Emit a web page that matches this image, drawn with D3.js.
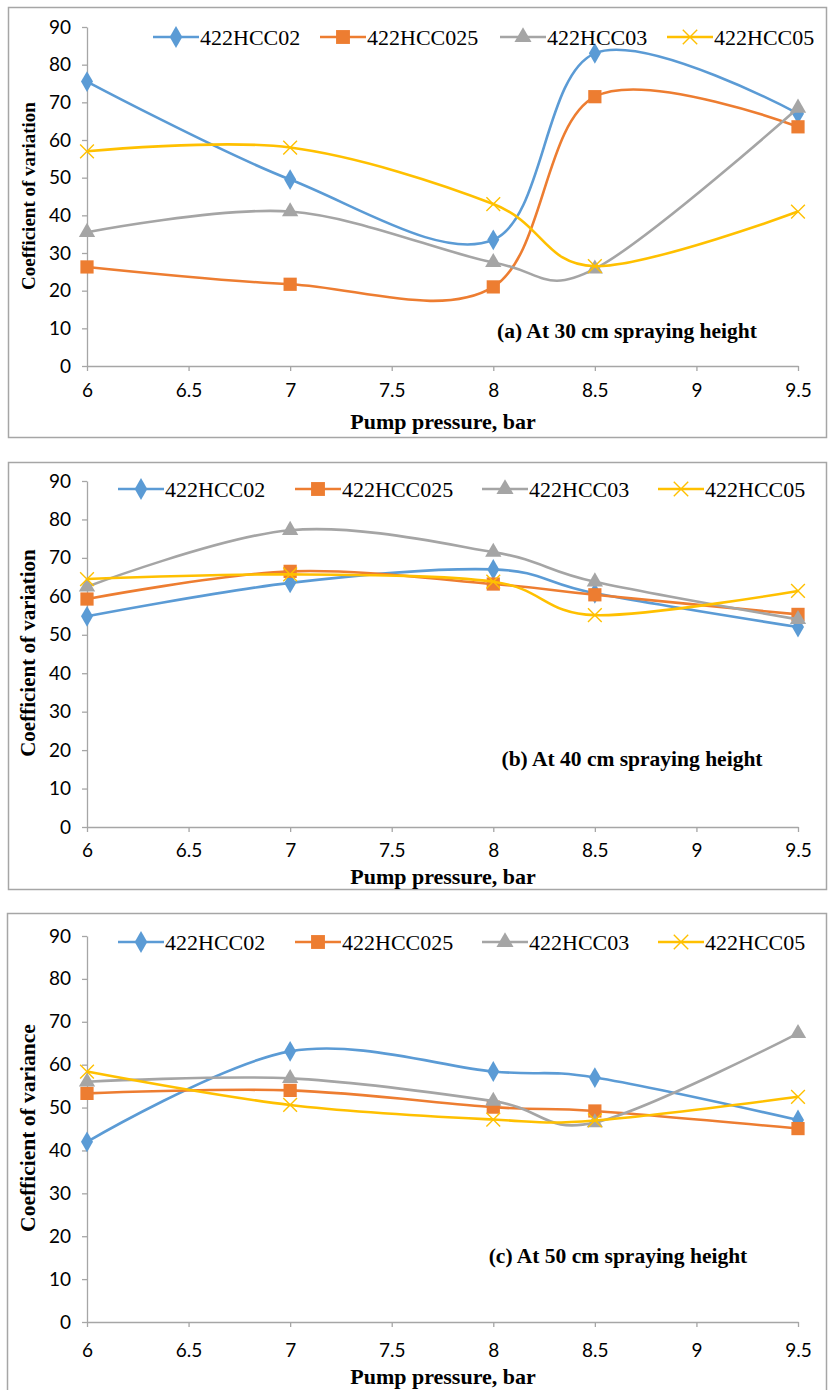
<!DOCTYPE html>
<html>
<head>
<meta charset="utf-8">
<script src="https://cdn.jsdelivr.net/npm/d3@7"></script>
<style>
  body { margin: 0; background: #fff; }
  svg { display: block; }
</style>
</head>
<body>
<svg id="chart" width="828" height="1390"></svg>
<script>
// cv_spray_height.js

const pressures = [6, 7, 8, 8.5, 9.5];
const seriesNames = ["422HCC02", "422HCC025", "422HCC03", "422HCC05"];
const xTicks = [6, 6.5, 7, 7.5, 8, 8.5, 9, 9.5];
const yTicks = [0, 10, 20, 30, 40, 50, 60, 70, 80, 90];

// (a) 30 cm
const cv30_hcc02  = [75.5, 49.5, 33.5, 83.0, 67.0];
const cv30_hcc025 = [26.3, 21.7, 21.0, 71.5, 63.5];
const cv30_hcc03  = [35.5, 41.0, 27.5, 25.8, 68.5];
const cv30_hcc05  = [57.0, 58.0, 43.0, 26.5, 41.0];

// (b) 40 cm
const cv40_hcc02  = [54.8, 63.5, 67.0, 60.8, 52.0];
const cv40_hcc025 = [59.3, 66.5, 63.2, 60.4, 55.3];
const cv40_hcc03  = [62.5, 77.2, 71.5, 63.8, 54.0];
const cv40_hcc05  = [64.5, 65.7, 63.8, 55.1, 61.4];

// (c) 50 cm
const cv50_hcc02  = [42.0, 63.1, 58.4, 57.0, 47.1];
const cv50_hcc025 = [53.3, 54.0, 50.1, 49.2, 45.1];
const cv50_hcc03  = [56.0, 56.8, 51.5, 46.5, 67.3];
const cv50_hcc05  = [58.4, 50.6, 47.2, 47.0, 52.5];

const colores = ["#5B9BD5", "#ED7D31", "#A5A5A5", "#FFC000"];
const simbolos = [d3.symbolDiamond, d3.symbolSquare, d3.symbolTriangle, d3.symbolTimes];
const tamanos = [125, 175, 115, 125];

const serif = "'Liberation Serif', 'Times New Roman', serif";
const sans = "Lato, 'Open Sans', sans-serif";

const paneles = [
    { box: [8.5, 7.5, 818, 430], y0: 366, y90: 27,
      datos: [cv30_hcc02, cv30_hcc025, cv30_hcc03, cv30_hcc05],
      leyendaY: 37, leyendaX: [153, 320, 500, 667],
      tickY: 397, tituloX: 429, tituloY: 196, tituloYSize: 19, yLabel: "Coefficient of variation",
      nota: "(a) At 30 cm spraying height", notaX: 627, notaY: 338 },
    { box: [8.5, 462.5, 818, 427], y0: 827, y90: 481,
      datos: [cv40_hcc02, cv40_hcc025, cv40_hcc03, cv40_hcc05],
      leyendaY: 489, leyendaX: [118, 295, 482, 658],
      tickY: 857, tituloX: 884, tituloY: 653, tituloYSize: 21, yLabel: "Coefficient of variation",
      nota: "(b) At 40 cm spraying height", notaX: 632, notaY: 766 },
    { box: [7.5, 913.5, 819, 500], y0: 1322, y90: 936,
      datos: [cv50_hcc02, cv50_hcc025, cv50_hcc03, cv50_hcc05],
      leyendaY: 942, leyendaX: [118, 295, 482, 658],
      tickY: 1357, tituloX: 1384, tituloY: 1128, tituloYSize: 21.5, yLabel: "Coefficient of variance",
      nota: "(c) At 50 cm spraying height", notaX: 618, notaY: 1263 }
];

const svg = d3.select("#chart");

const x = d3.scaleLinear().domain([6, 9.5]).range([87, 798]);

function dibujarPanel(p) {
    const g = svg.append("g");

    g.append("rect")
        .attr("x", p.box[0]).attr("y", p.box[1])
        .attr("width", p.box[2]).attr("height", p.box[3])
        .attr("fill", "none")
        .attr("stroke", "#a6a6a6")
        .attr("stroke-width", 1.5);

    const y = d3.scaleLinear().domain([0, 90]).range([p.y0, p.y90]);

    // Eje Y
    const ejeY = g.append("g")
        .attr("transform", `translate(${x(6)},0)`)
        .call(d3.axisLeft(y).tickValues(yTicks).tickSize(5).tickPadding(11).tickSizeOuter(0));
    ejeY.select(".domain").attr("stroke", "#a6a6a6").attr("stroke-width", 1.3);
    ejeY.selectAll(".tick line").attr("stroke", "#a6a6a6").attr("stroke-width", 1.3);
    ejeY.selectAll(".tick text")
        .style("font-family", sans)
        .style("font-size", "19px")
        .attr("fill", "#000");

    // Eje X
    const ejeX = g.append("g")
        .attr("transform", `translate(0,${p.y0})`)
        .call(d3.axisBottom(x).tickValues(xTicks).tickSize(5).tickSizeOuter(0)
            .tickFormat(d3.format("")));
    ejeX.select(".domain").attr("stroke", "#a6a6a6").attr("stroke-width", 1.3);
    ejeX.selectAll(".tick line").attr("stroke", "#a6a6a6").attr("stroke-width", 1.3);
    ejeX.selectAll(".tick text")
        .attr("y", p.tickY - p.y0)
        .attr("dy", null)
        .style("font-family", sans)
        .style("font-size", "19px")
        .attr("fill", "#000");

    // Titulos
    g.append("text")
        .attr("x", 443).attr("y", p.tituloX)
        .attr("text-anchor", "middle")
        .style("font-family", serif)
        .style("font-weight", "bold")
        .style("font-size", "22px")
        .text("Pump pressure, bar");

    g.append("text")
        .attr("transform", `translate(35,${p.tituloY}) rotate(-90)`)
        .attr("text-anchor", "middle")
        .style("font-family", serif)
        .style("font-weight", "bold")
        .style("font-size", p.tituloYSize + "px")
        .text(p.yLabel);

    g.append("text")
        .attr("x", p.notaX).attr("y", p.notaY)
        .attr("text-anchor", "middle")
        .style("font-family", serif)
        .style("font-weight", "bold")
        .style("font-size", "21.5px")
        .text(p.nota);

    const linea = d3.line()
        .x((d, i) => x(pressures[i]))
        .y(d => y(d))
        .curve(d3.curveCardinal.tension(0));

    p.datos.forEach((serie, s) => {
        g.append("path")
            .datum(serie)
            .attr("d", linea)
            .attr("fill", "none")
            .attr("stroke", colores[s])
            .attr("stroke-width", 2.6);

        g.selectAll(null)
            .data(serie)
            .join("path")
            .attr("transform", (d, i) => `translate(${x(pressures[i])},${y(d)})`)
            .attr("d", d3.symbol().type(simbolos[s]).size(tamanos[s]))
            .attr("fill", s === 3 ? "none" : colores[s])
            .attr("stroke", s === 3 ? colores[s] : "none")
            .attr("stroke-width", 1.4);
    });

    // Leyenda
    seriesNames.forEach((nombre, s) => {
        const lx = p.leyendaX[s];
        const row = g.append("g").attr("transform", `translate(${lx},${p.leyendaY})`);
        row.append("line")
            .attr("x1", 0).attr("x2", 46)
            .attr("stroke", colores[s])
            .attr("stroke-width", 2.6);
        row.append("path")
            .attr("transform", "translate(23,0)")
            .attr("d", d3.symbol().type(simbolos[s]).size(tamanos[s] * 1.1))
            .attr("fill", s === 3 ? "none" : colores[s])
            .attr("stroke", s === 3 ? colores[s] : "none")
            .attr("stroke-width", 1.4);
        row.append("text")
            .attr("x", 47).attr("y", 7.5)
            .style("font-family", serif)
            .style("font-size", "22px")
            .text(nombre);
    });
}

paneles.forEach(dibujarPanel);
</script>
</body>
</html>
